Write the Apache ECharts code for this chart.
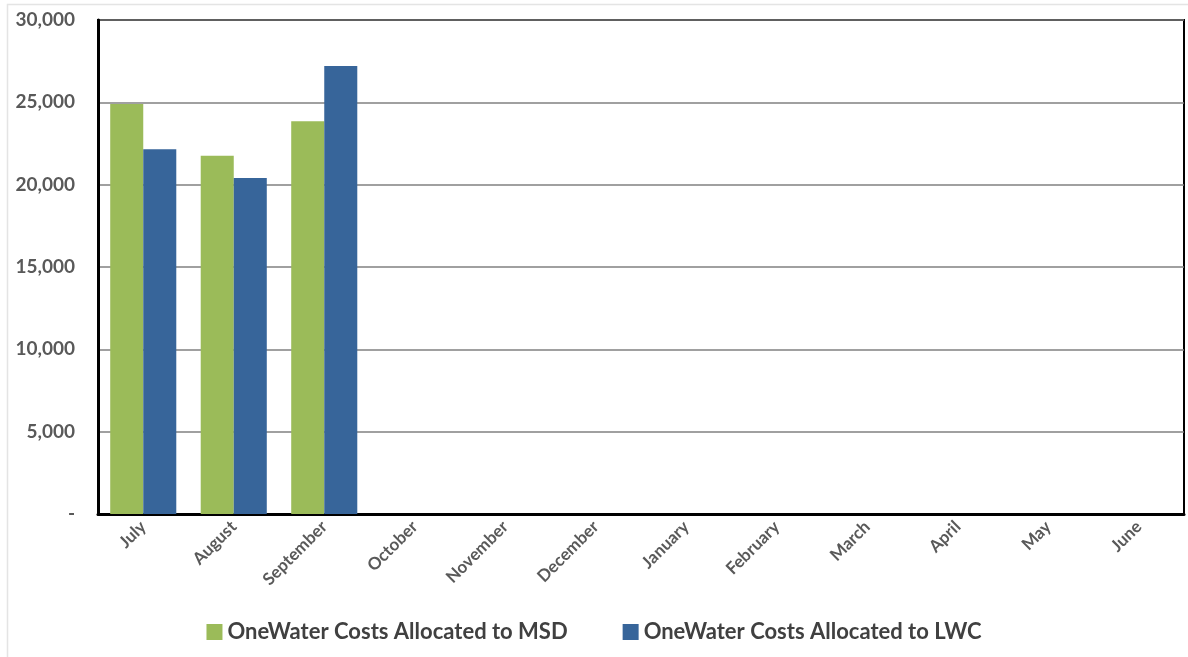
<!DOCTYPE html>
<html>
<head>
<meta charset="utf-8">
<script src="https://cdn.jsdelivr.net/npm/echarts@6/dist/echarts.min.js"></script>
<style>
  html, body { margin: 0; padding: 0; background: #fff; }
  #chart { width: 1188px; height: 657px; }
</style>
</head>
<body>
<div id="chart"></div>
<script>
// Fiscal-year months
const months = ['July', 'August', 'September', 'October', 'November', 'December',
                'January', 'February', 'March', 'April', 'May', 'June'];
// OneWater costs by month (only July–September reported so far)
const msdCosts = [24900, 21750, 23850, null, null, null, null, null, null, null, null, null];
const lwcCosts = [22150, 20400, 27200, null, null, null, null, null, null, null, null, null];
const seriesNames = ['OneWater Costs Allocated to MSD', 'OneWater Costs Allocated to LWC'];
const yTicks = { min: 0, max: 30000, interval: 5000 };

const FONT = 'Lato, "Open Sans", "DejaVu Sans", sans-serif';
const chart = echarts.init(document.getElementById('chart'), null, { renderer: 'canvas' });

chart.setOption({
  animation: false,
  backgroundColor: '#fff',
  grid: { left: 98, right: 4, top: 20, bottom: 143, show: true, borderColor: '#000', borderWidth: 2 },
  legend: {
    bottom: 9,
    left: 'center',
    itemWidth: 16,
    itemHeight: 16,
    itemGap: 55,
    icon: 'rect',
    textStyle: { fontFamily: FONT, fontWeight: 700, fontSize: 22, color: '#404040' },
    data: seriesNames
  },
  xAxis: {
    type: 'category',
    data: months,
    axisLine: { lineStyle: { color: '#000', width: 3 } },
    axisTick: { show: false },
    axisLabel: {
      rotate: 45,
      interval: 0,
      margin: 10,
      fontFamily: FONT,
      fontWeight: 700,
      fontSize: 17,
      color: '#595959'
    }
  },
  yAxis: {
    type: 'value',
    min: yTicks.min,
    max: yTicks.max,
    interval: yTicks.interval,
    axisLine: { show: true, lineStyle: { color: '#000', width: 3 } },
    axisTick: { show: false },
    splitLine: { lineStyle: { color: '#808080', width: 1.5 } },
    axisLabel: {
      margin: 23,
      fontFamily: FONT,
      fontWeight: 700,
      fontSize: 19,
      color: '#595959',
      formatter: v => v === 0 ? '-' : v.toLocaleString('en-US')
    }
  },
  series: [
    {
      name: seriesNames[0],
      type: 'bar',
      data: msdCosts,
      barGap: '0%',
      barCategoryGap: '27%',
      itemStyle: { color: '#9BBB59' }
    },
    {
      name: seriesNames[1],
      type: 'bar',
      data: lwcCosts,
      itemStyle: { color: '#37659A' }
    }
  ],
  graphic: [
    {
      type: 'rect',
      left: 5, top: 2,
      shape: { width: 1190, height: 660 },
      style: { fill: 'none', stroke: '#e4e4e4', lineWidth: 1.5 },
      silent: true
    }
  ]
});
</script>
</body>
</html>
